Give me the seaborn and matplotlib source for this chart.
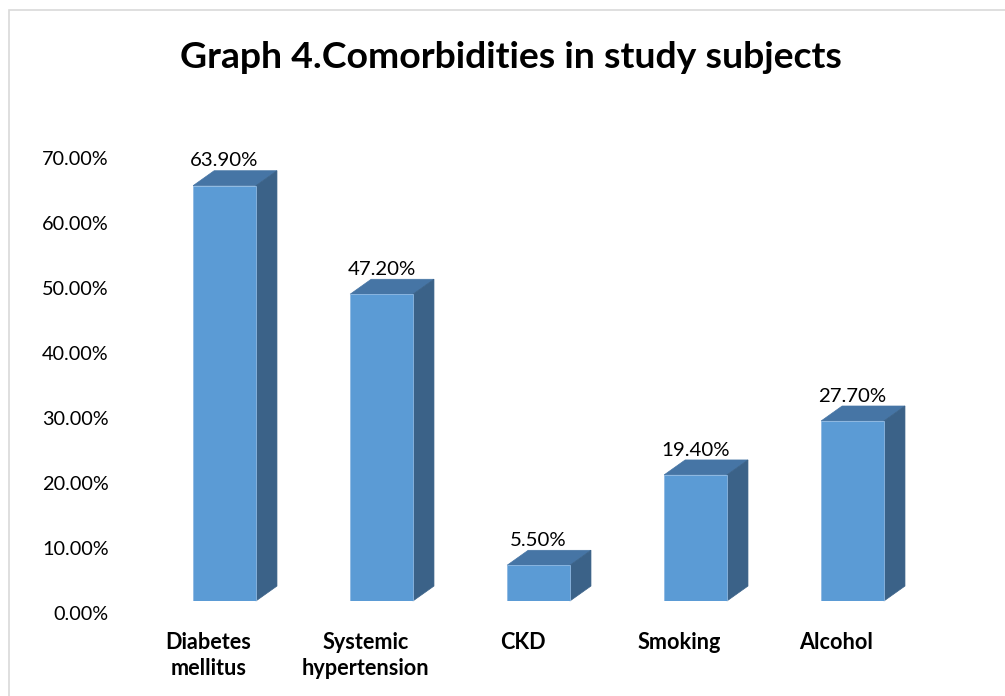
import matplotlib
matplotlib.use("Agg")
import matplotlib.pyplot as plt
import matplotlib.patches as mpatches
from matplotlib.transforms import ScaledTranslation
import seaborn as sns
import pandas as pd

categories = ["Diabetes\nmellitus", "Systemic\nhypertension", "CKD", "Smoking", "Alcohol"]
values = [63.9, 47.2, 5.5, 19.4, 27.7]
value_labels = ["63.90%", "47.20%", "5.50%", "19.40%", "27.70%"]
yticks = [0, 10, 20, 30, 40, 50, 60, 70]
ytick_labels = ["0.00%", "10.00%", "20.00%", "30.00%", "40.00%", "50.00%", "60.00%", "70.00%"]
title = "Graph 4.Comorbidities in study subjects"

FRONT = "#5B9BD5"
TOP = "#4675A5"
SIDE = "#3B6288"
FONT = ["Lato", "DejaVu Sans"]

sns.set_theme(style="white")
plt.rcParams["font.family"] = FONT
plt.rcParams["text.color"] = "black"
plt.rcParams["xtick.color"] = "black"
plt.rcParams["ytick.color"] = "black"

df = pd.DataFrame({"cat": categories, "val": values})

fig = plt.figure(figsize=(10.05, 6.96), dpi=100)
ax = fig.add_axes([0.1453, 0.1365, 0.7811, 0.6537])

sns.barplot(data=df, x="cat", y="val", color=FRONT, width=0.4, saturation=1,
            edgecolor="#8DB8E2", linewidth=0.6, ax=ax, zorder=3)

ax.set_ylim(0, 70)
ax.set_xlim(-0.5, len(categories) - 0.5)

# 3D depth faces built from the library's bars
DX = 0.134   # depth in x data units
DY = 2.3     # depth in y data units
for patch, lab in zip(ax.patches, value_labels):
    x0 = patch.get_x()
    w = patch.get_width()
    h = patch.get_height()
    top = mpatches.Polygon([(x0, h), (x0 + DX, h + DY), (x0 + w + DX, h + DY), (x0 + w, h)],
                           closed=True, facecolor=TOP, edgecolor=TOP, lw=0.5,
                           clip_on=False, zorder=2)
    side = mpatches.Polygon([(x0 + w, 0), (x0 + w + DX, DY), (x0 + w + DX, h + DY), (x0 + w, h)],
                            closed=True, facecolor=SIDE, edgecolor=SIDE, lw=0.5,
                            clip_on=False, zorder=2)
    ax.add_patch(top)
    ax.add_patch(side)
    ax.text(x0 + w / 2, h + DY + 0.2, lab, ha="center", va="bottom",
            fontsize=14.7, color="black", zorder=5, clip_on=False)

ax.set_yticks(yticks)
ax.set_yticklabels(ytick_labels, fontsize=14.3)
ax.set_xlabel("")
ax.set_ylabel("")
ax.tick_params(axis="both", length=0)
ax.tick_params(axis="y", pad=27)
ax.tick_params(axis="x", pad=22)
for lab in ax.get_xticklabels():
    lab.set_fontweight("bold")
    lab.set_fontsize(15.6)
    lab.set_linespacing(1.32)
    lab.set_transform(lab.get_transform() + ScaledTranslation(-0.16, 0, fig.dpi_scale_trans))
for lab in ax.get_yticklabels():
    lab.set_transform(lab.get_transform() + ScaledTranslation(0, -0.12, fig.dpi_scale_trans))

for s in ax.spines.values():
    s.set_visible(False)
ax.grid(False)

fig.text(0.508, 0.918, title, ha="center", va="center", fontsize=26.9,
         fontweight="bold", color="black")

fig.patches.append(mpatches.Rectangle((9 / 1005, -0.05), 1.2, 1 - 10 / 696 + 0.05,
                                      transform=fig.transFigure, fill=False,
                                      edgecolor="#D9D9D9", lw=1.2, zorder=0))

fig.savefig("out.png", dpi=100)
